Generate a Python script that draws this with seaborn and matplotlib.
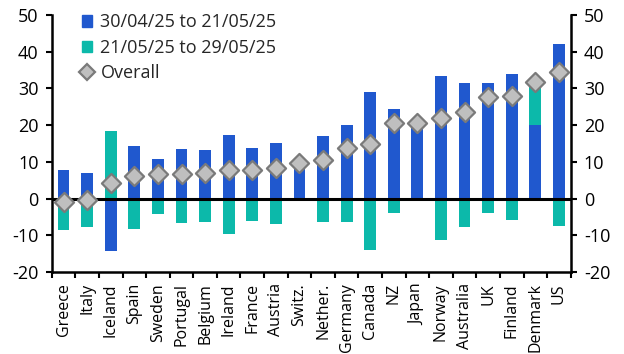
import numpy as np
import pandas as pd
import matplotlib
matplotlib.use("Agg")
import matplotlib.pyplot as plt
import matplotlib.patches as mpatches
from matplotlib.lines import Line2D
from matplotlib.ticker import FixedLocator
import seaborn as sns

countries = ["Greece", "Italy", "Iceland", "Spain", "Sweden", "Portugal", "Belgium",
             "Ireland", "France", "Austria", "Switz.", "Nether.", "Germany", "Canada",
             "NZ", "Japan", "Norway", "Australia", "UK", "Finland", "Denmark", "US"]
first_period = [7.7, 7.1, -14.3, 14.4, 10.9, 13.6, 13.3, 17.4, 13.8, 15.2, 9.7, 17.1,
                20.1, 29.0, 24.4, 20.7, 33.3, 31.5, 31.5, 33.9, 20.0, 42.0]
second_period = [-8.5, -7.8, 18.5, -8.3, -4.2, -6.6, -6.3, -9.7, -6.0, -6.9, 0.0, -6.4,
                 -6.4, -14.0, -3.9, 0.0, -11.3, -7.8, -3.9, -5.9, 11.8, -7.5]
overall = [-0.8, -0.5, 4.2, 6.1, 6.7, 6.7, 7.0, 7.7, 7.7, 8.3, 9.7, 10.6,
           13.7, 14.9, 20.5, 20.7, 22.0, 23.7, 27.6, 28.0, 31.8, 34.5]

label_first = "30/04/25 to 21/05/25"
label_second = "21/05/25 to 29/05/25"
label_overall = "Overall"

blue = "#2058CE"
teal = "#0CB9AA"

df = pd.DataFrame({"country": countries, "first": first_period,
                   "second": second_period, "overall": overall})
# second period sits on top of the first one only when both go the same way
df["base"] = np.where(np.sign(df["first"]) == np.sign(df["second"]), df["first"], 0.0)

sns.set_style("ticks")
plt.rcParams["font.family"] = ["Open Sans", "DejaVu Sans"]
plt.rcParams["axes.unicode_minus"] = False

fig = plt.figure(figsize=(6.24, 3.54), dpi=100)
ax = fig.add_axes([0.083, 0.2316, 0.8316, 0.726])

sns.barplot(data=df, x="country", y="first", color=blue, width=0.5,
            saturation=1, linewidth=0, edgecolor="none", ax=ax, zorder=2)
sns.barplot(data=df, x="country", y="second", bottom=df["base"].values, color=teal,
            width=0.5, saturation=1, linewidth=0, edgecolor="none", ax=ax, zorder=2)
sns.scatterplot(data=df, x="country", y="overall", marker="D", s=95, color="#BFBFBF",
                edgecolor="#7A7A7A", linewidth=1.6, ax=ax, zorder=4)

ax.axhline(0, color="black", lw=2.2, zorder=3)

ax.set_xlim(-0.5, len(countries) - 0.5)
ax.set_ylim(-20, 50)
ax.set_yticks(range(-20, 51, 10))
ax.set_yticklabels([str(v) for v in range(-20, 51, 10)])
ax.set_xlabel("")
ax.set_ylabel("")

ax.set_xticks(range(len(countries)))
ax.set_xticklabels(countries, rotation=90)
ax.xaxis.set_minor_locator(FixedLocator(np.arange(-0.5, len(countries), 1.0)))
ax.tick_params(axis="x", which="major", length=0, pad=8, labelsize=11.5, colors="black")
ax.tick_params(axis="x", which="minor", length=4, width=1.5, direction="out", color="black")
ax.tick_params(axis="y", which="major", left=True, right=True, labelleft=True,
               labelright=True, length=4.5, width=1.5, direction="out",
               labelsize=13, pad=5, colors="black")

for side in ["left", "right", "bottom"]:
    ax.spines[side].set_visible(True)
    ax.spines[side].set_linewidth(1.8)
    ax.spines[side].set_color("black")
ax.spines["top"].set_visible(False)

handles = [mpatches.Patch(color=blue, label=label_first),
           mpatches.Patch(color=teal, label=label_second),
           Line2D([], [], marker="D", linestyle="none", markersize=8.5,
                  markerfacecolor="#BFBFBF", markeredgecolor="#7A7A7A",
                  markeredgewidth=1.6, label=label_overall)]
ax.legend(handles=handles, loc="upper left", bbox_to_anchor=(0.045, 1.035), frameon=False,
          fontsize=13, handlelength=0.55, handleheight=0.6, handletextpad=0.45,
          labelspacing=0.42, borderaxespad=0)

fig.savefig("out.png", dpi=100)
